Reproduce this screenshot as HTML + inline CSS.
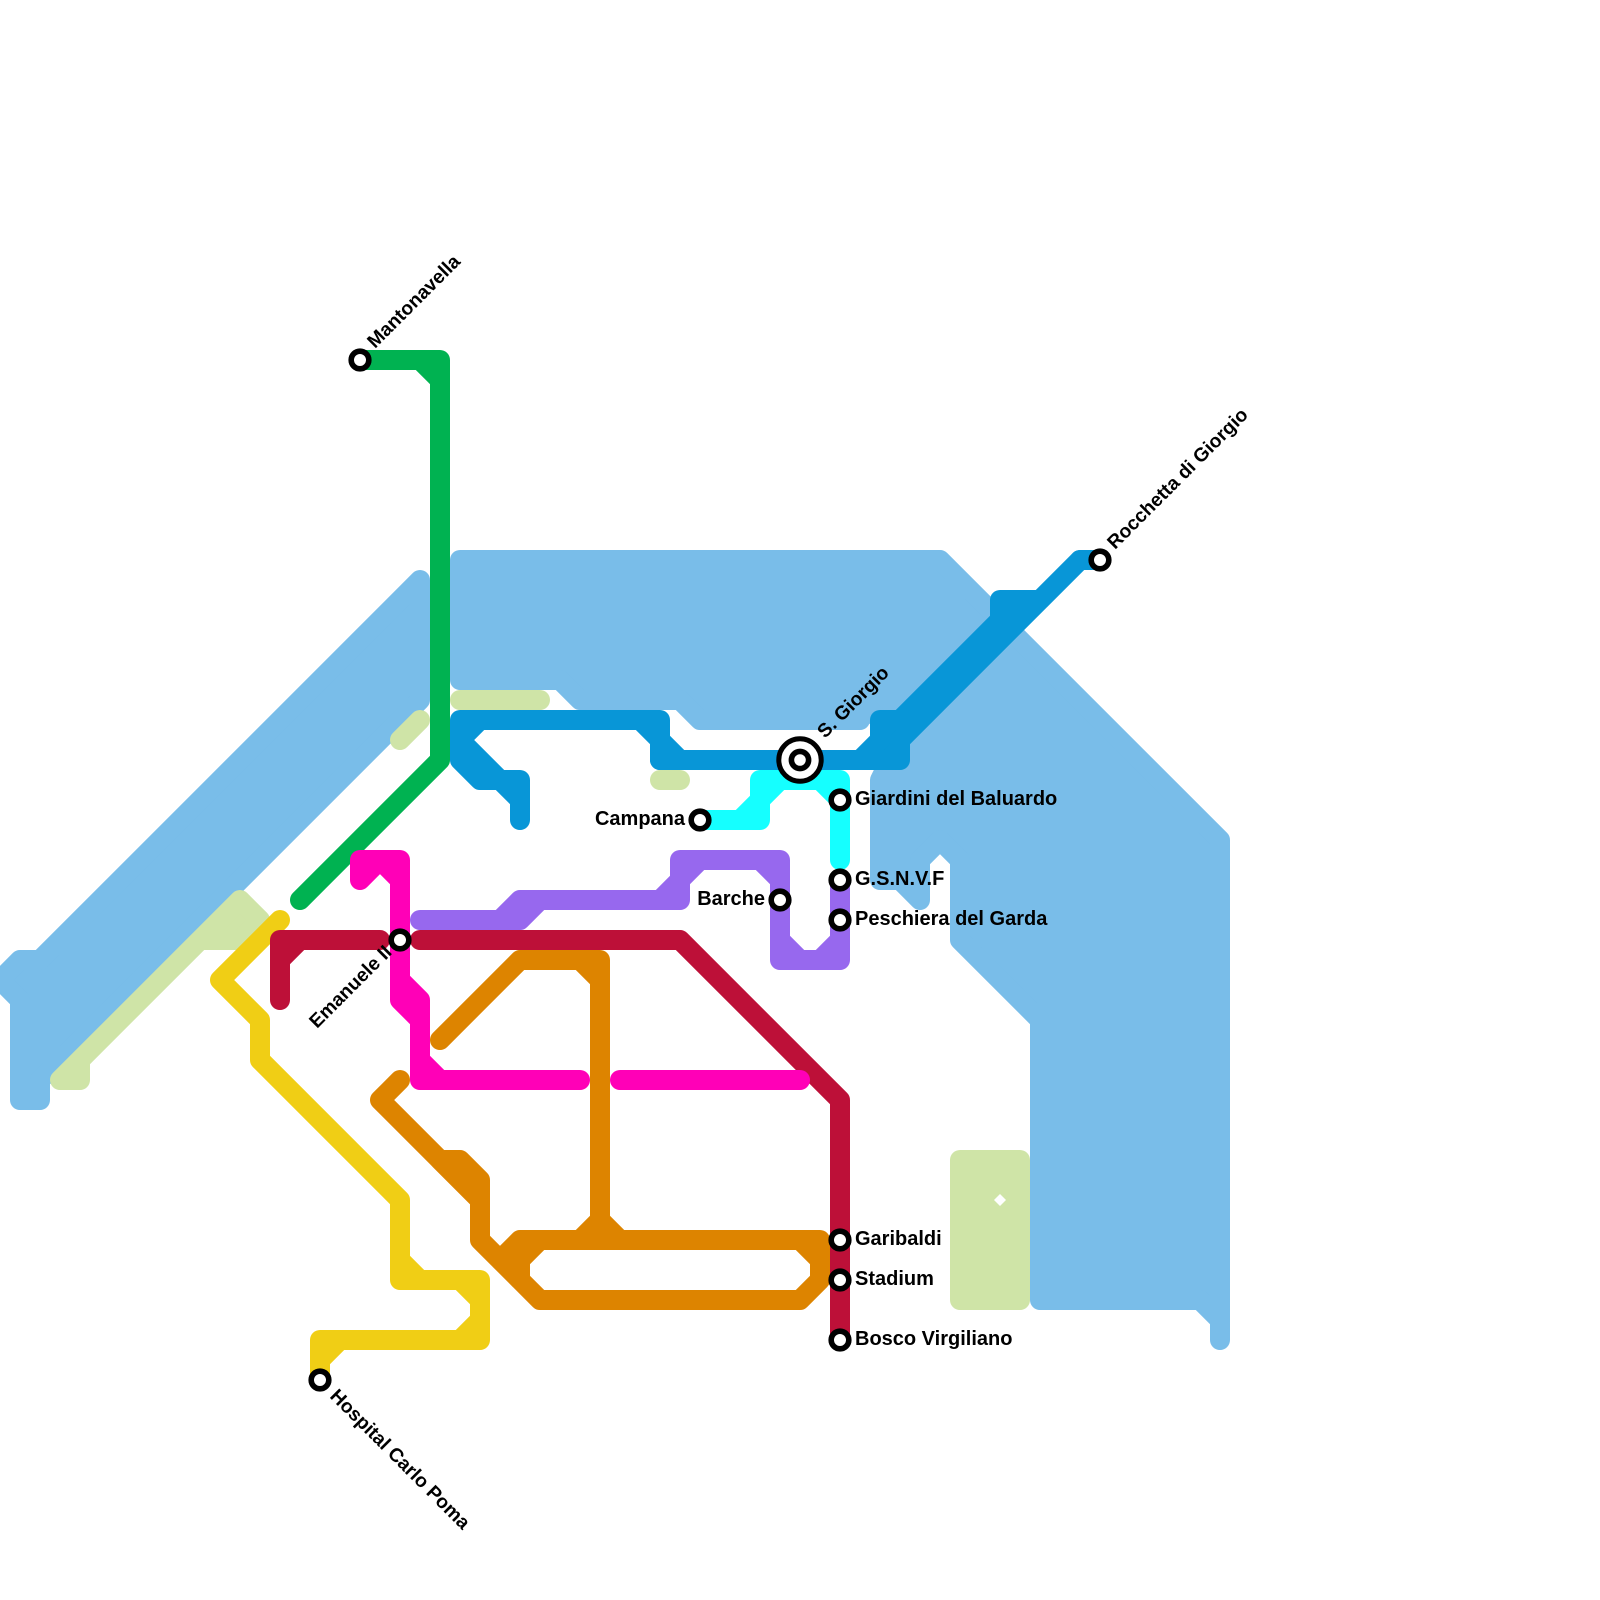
<!DOCTYPE html>
<html><head><meta charset="utf-8"><style>
html,body{margin:0;padding:0;background:#fff}
svg{display:block}
text{font-family:"Liberation Sans",sans-serif;font-weight:bold;font-size:20px;fill:#000}
text.r{font-size:19.3px}
.s{fill:none;stroke-width:20;stroke-linecap:round;stroke-linejoin:round}
.f{stroke-width:20;stroke-linecap:round;stroke-linejoin:round}
.st{fill:#fff;stroke:#000;stroke-width:5.6}
</style></head><body>
<svg width="1600" height="1600" viewBox="0 0 1600 1600" xmlns="http://www.w3.org/2000/svg">
<rect width="1600" height="1600" fill="#fff"/>
<!-- water -->
<g fill="#79bde9" stroke="#79bde9" class="f">
<polygon points="0,980 20,960 40,960 420,580 420,700 40,1080 40,1100 20,1100 20,1000"/>
<polygon points="460,560 940,560 1010,630 890,730 860,700 860,720 700,720 680,700 580,700 560,680 460,680"/>
<polygon points="880,780 880,880 900,880 920,900 920,860 940,840 960,860 960,940 1040,1020 1040,1300 1200,1300 1220,1320 1220,1340 1220,840 1010,630 900,740"/>
</g>
<!-- parks -->
<g fill="#cfe4a7" stroke="#cfe4a7" class="f">
<polygon points="60,1080 240,900 260,920 240,940 200,940 80,1060 80,1080"/>
<rect x="960" y="1160" width="60" height="140"/>
<path d="M420 720L400 740M460 700H540M660 780H680" fill="none"/>
</g>
<polygon points="1000,1194 1006,1200 1000,1206 994,1200" fill="#fff"/>
<!-- green -->
<path class="s" stroke="#00b251" d="M360 360H440V760L300 900M420 360L440 380"/>
<!-- yellow -->
<path class="s" stroke="#f0ce15" d="M280 920L220 980L260 1020V1060L400 1200V1280H480V1340H320V1380M400 1260L420 1280M460 1280L480 1300V1320L460 1340M320 1360L340 1340"/>
<!-- orange -->
<path class="s" stroke="#dd8400" d="M440 1040L520 960H600V1240M580 960L600 980M580 1240L600 1220L620 1240M400 1080L380 1100L480 1200V1240L540 1300H800L820 1280V1240H520L500 1260L520 1280M540 1240L520 1260V1280M800 1240L820 1260"/>
<polygon class="f" fill="#dd8400" stroke="#dd8400" points="440,1160 460,1160 480,1180 480,1200"/>
<!-- crimson -->
<path class="s" stroke="#bd1038" d="M280 1000V940H380M280 960L300 940M420 940H680L840 1100V1340"/>
<!-- magenta -->
<path class="s" stroke="#ff00b7" d="M360 880V860H400V1000L420 1020V1080M360 880L380 860L400 880M400 980L420 1000V1020M420 1060L440 1080M420 1080H580M620 1080H800"/>
<!-- purple -->
<path class="s" stroke="#9768ee" d="M420 920H500L520 900H660L680 880V860H780V960H840V880M420 920H520L540 900H680V880L700 860M760 860L780 880M780 940L800 960H820L840 940"/>
<!-- cyan -->
<path class="s" stroke="#15ffff" d="M700 820H740L760 800V780H840V860M700 820H760V800L780 780M820 780L840 800"/>
<!-- dark blue -->
<path class="s" stroke="#0896d7" d="M460 720H660V740L680 760M640 720L680 760M660 740V760H700M460 720V760L480 780H500L520 800V820M480 720L460 740L500 780H520V800M1080 560H1100"/>
<polygon class="f" fill="#0896d7" stroke="#0896d7" points="660,760 860,760 880,740 880,720 900,720 1000,620 1000,600 1040,600 1080,560 900,740 900,760"/>
<!-- stations -->
<g class="st">
<circle cx="360" cy="360" r="8.8"/>
<circle cx="1100" cy="560" r="8.8"/>
<circle cx="840" cy="800" r="8.8"/>
<circle cx="840" cy="880" r="8.8"/>
<circle cx="840" cy="920" r="8.8"/>
<circle cx="780" cy="900" r="8.8"/>
<circle cx="700" cy="820" r="8.8"/>
<circle cx="400" cy="940" r="8.8"/>
<circle cx="840" cy="1240" r="8.8"/>
<circle cx="840" cy="1280" r="8.8"/>
<circle cx="840" cy="1340" r="8.8"/>
<circle cx="320" cy="1380" r="8.8"/>
<circle cx="800" cy="760" r="21.2" stroke-width="5"/>
<circle cx="800" cy="760" r="8.6"/>
</g>
<!-- labels -->
<text x="855" y="805">Giardini del Baluardo</text>
<text x="855" y="885">G.S.N.V.F</text>
<text x="855" y="925">Peschiera del Garda</text>
<text x="855" y="1245">Garibaldi</text>
<text x="855" y="1285">Stadium</text>
<text x="855" y="1345">Bosco Virgiliano</text>
<text x="685" y="825" text-anchor="end">Campana</text>
<text x="765" y="905" text-anchor="end">Barche</text>
<text class="r" transform="translate(375,349) rotate(-45)">Mantonavella</text>
<text class="r" transform="translate(1115,550) rotate(-45)">Rocchetta di Giorgio</text>
<text class="r" transform="translate(825,739) rotate(-45)">S. Giorgio</text>
<text class="r" transform="translate(317,1029) rotate(-45)">Emanuele II</text>
<text class="r" transform="translate(329,1397) rotate(45)">Hospital Carlo Poma</text>
</svg>
</body></html>
